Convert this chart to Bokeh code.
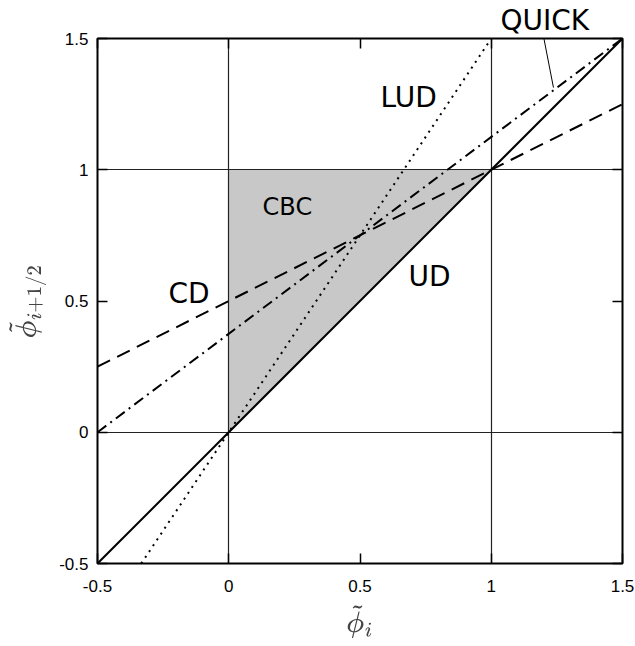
from bokeh.plotting import figure
from bokeh.models import FixedTicker, LinearAxis, Label, Arrow, Range1d
from bokeh.embed import file_html
from bokeh.resources import INLINE

# ---- data ----
tick_vals = [-0.5, 0, 0.5, 1, 1.5]
tick_labels = ["-0.5", "0", "0.5", "1", "1.5"]
grid_vals = [0, 1]

ud_x = [-0.5, 1.5]
ud_y = [-0.5, 1.5]
cd_x = [-0.5, 1.5]
cd_y = [0.25, 1.25]
lud_x = [-1/3, 1.0]
lud_y = [-0.5, 1.5]
quick_x = [-0.5, 1.5]
quick_y = [0.0, 1.5]
cbc_x = [0, 0, 1]
cbc_y = [0, 1, 1]

p = figure(width=635, height=646, output_backend="svg", toolbar_location=None,
           x_range=Range1d(-0.5, 1.5), y_range=Range1d(-0.5, 1.5),
           min_border_left=97, min_border_right=13, min_border_top=38, min_border_bottom=83)
p.background_fill_color = "white"
p.border_fill_color = "white"
p.outline_line_color = "black"
p.outline_line_width = 2

# QUICK label as title (outside the frame)
p.title.text = "QUICK"
p.title.align = "left"
p.title.vertical_align = "top"
p.title.offset = 403
p.title.text_font = "DejaVu Sans"
p.title.text_font_size = "28px"
p.title.text_font_style = "normal"
p.title.text_color = "black"
p.title.standoff = 0

# CBC region
patch = p.patch(cbc_x, cbc_y, fill_color="#c8c8c8", line_color=None)
patch.level = "image"

# grids at 0 and 1
for g in (p.xgrid, p.ygrid):
    g.ticker = FixedTicker(ticks=grid_vals)
    g.grid_line_color = "#222222"
    g.grid_line_width = 1.2

# curves
p.line(ud_x, ud_y, line_color="black", line_width=2)
p.line(cd_x, cd_y, line_color="black", line_width=2, line_dash="14 8")
p.line(lud_x, lud_y, line_color="black", line_width=2, line_dash="2 5")
p.line(quick_x, quick_y, line_color="black", line_width=2, line_dash="11 5 2 5")

overrides = {v: l for v, l in zip(tick_vals, tick_labels)}
for ax in (p.xaxis[0], p.yaxis[0]):
    ax.ticker = FixedTicker(ticks=tick_vals)
    ax.major_label_overrides = overrides
    ax.major_tick_in = 10
    ax.major_tick_out = 0
    ax.minor_tick_in = 0
    ax.minor_tick_out = 0
    ax.major_tick_line_width = 1.5
    ax.axis_line_color = None
    ax.major_label_text_font = "Liberation Sans"
    ax.major_label_text_font_size = "17px"
    ax.major_label_text_color = "black"
    ax.axis_label_text_font_size = "23px"
    ax.axis_label_text_font_style = "normal"

p.xaxis[0].major_label_standoff = 16
p.yaxis[0].major_label_standoff = 9
p.xaxis[0].axis_label = r"$$\tilde{\phi}_i$$"
p.yaxis[0].axis_label = r"$$\tilde{\phi}_{i+1/2}$$"
p.xaxis[0].axis_label_standoff = 8
p.yaxis[0].axis_label_standoff = 10

for loc in ("above", "right"):
    ax = LinearAxis(ticker=FixedTicker(ticks=tick_vals))
    ax.major_label_overrides = {v: "" for v in tick_vals}
    ax.major_tick_in = 10
    ax.major_tick_out = 0
    ax.minor_tick_in = 0
    ax.minor_tick_out = 0
    ax.major_tick_line_width = 1.5
    ax.axis_line_color = None
    ax.major_label_standoff = 0
    p.add_layout(ax, loc)

# labels
font = "DejaVu Sans"
for txt, x, y, size in [("LUD", 0.578, 1.275, "28px"),
                        ("CBC", 0.129, 0.860, "24px"),
                        ("CD", -0.230, 0.528, "28px"),
                        ("UD", 0.685, 0.593, "28px")]:
    p.add_layout(Label(x=x, y=y, text=txt, text_font=font, text_font_size=size,
                       text_baseline="alphabetic", text_color="black"))

# QUICK leader line
p.add_layout(Arrow(end=None, x_start=1.194, y_start=1.534, x_end=1.237, y_end=1.313,
                   line_color="black", line_width=1))

open("out.html", "w").write(file_html(p, INLINE))
